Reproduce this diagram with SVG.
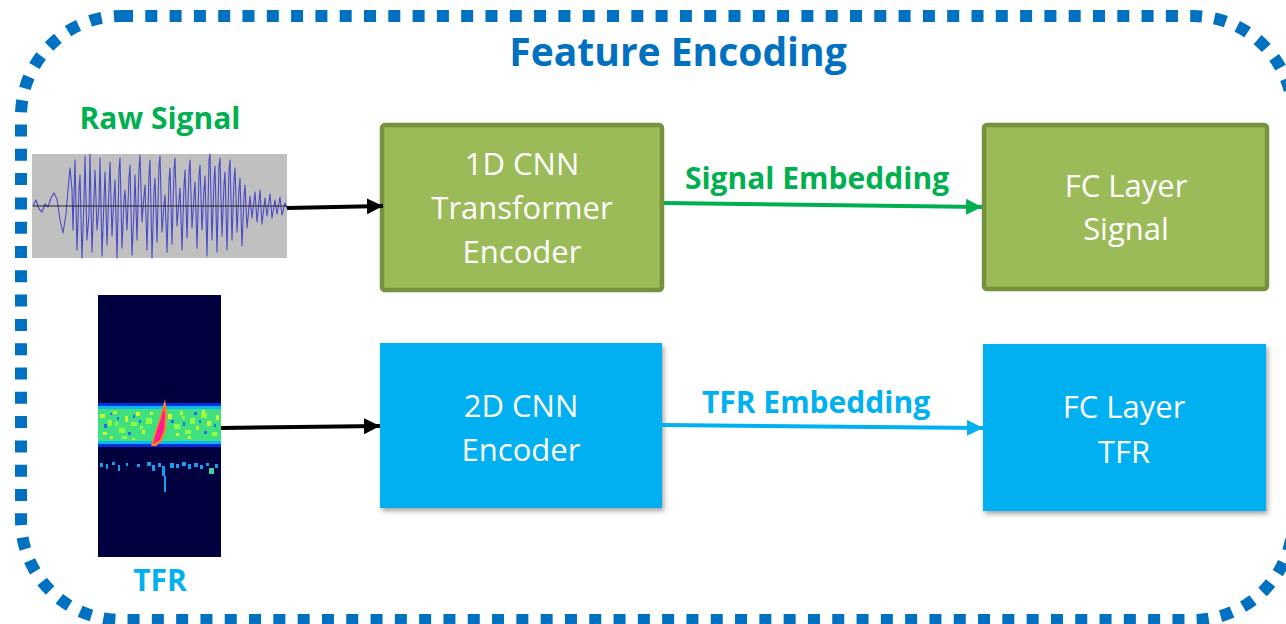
<svg xmlns="http://www.w3.org/2000/svg" width="1286" height="624" viewBox="0 0 1286 624">
  <style>
    .title { font-family: "Open Sans", "Liberation Sans", sans-serif; font-weight: bold; font-size: 39px; fill: #0070C0; text-anchor: middle; }
    .lbl { font-family: "Open Sans", "Liberation Sans", sans-serif; font-weight: bold; font-size: 30px; text-anchor: middle; }
    .green { fill: #00B050; }
    .blue { fill: #00B0F0; }
    .box-text { font-family: "Open Sans", "Liberation Sans", sans-serif; font-size: 31px; fill: #FFFFFF; text-anchor: middle; }
    .gbox { fill: #9BBB59; stroke: #76923C; stroke-width: 4.5; }
    .bbox { fill: #00B0F0; filter: url(#shadow); }
    .wire { fill: none; stroke-width: 4; }
  </style>
  <defs>
    <filter id="shadow" x="-10%" y="-10%" width="125%" height="130%">
      <feDropShadow dx="2" dy="3" stdDeviation="2.5" flood-color="#000000" flood-opacity="0.35"/>
    </filter>
    <filter id="soft" x="-5%" y="-20%" width="110%" height="140%">
      <feGaussianBlur stdDeviation="0.6"/>
    </filter>
    <marker id="head-black" markerUnits="userSpaceOnUse" markerWidth="18" markerHeight="18" refX="16" refY="8" orient="auto">
      <path d="M0,0 L16,8 L0,16 Z" fill="#000000"/>
    </marker>
    <marker id="head-green" markerUnits="userSpaceOnUse" markerWidth="18" markerHeight="18" refX="16" refY="8" orient="auto">
      <path d="M0,0 L16,8 L0,16 Z" fill="#00B050"/>
    </marker>
    <marker id="head-blue" markerUnits="userSpaceOnUse" markerWidth="18" markerHeight="18" refX="16" refY="8" orient="auto">
      <path d="M0,0 L16,8 L0,16 Z" fill="#00B0F0"/>
    </marker>
  </defs>

  <rect width="1286" height="624" fill="#FFFFFF"/>

  <!-- dotted frame around the encoding stage -->
  <rect id="frame" x="21" y="16" width="1272" height="604" rx="100" ry="100" fill="none" stroke="#0070C0" stroke-width="12" stroke-dasharray="12 12.3"/>
  <text class="title" x="678" y="66">Feature Encoding</text>

  <!-- raw waveform input -->
  <g id="raw-signal">
    <text class="lbl green" x="160" y="129">Raw Signal</text>
    <rect x="32" y="154" width="255" height="104" fill="#C0C0C0"/>
    <polyline fill="none" stroke="#4B4BC8" stroke-width="1.1" stroke-linejoin="round" points="33,206 36,200 39,209 42,212 45,204 48,207 51,198 54,193 57,199 60,220 63,233 66,214 68,190 70,168 72,190 73,230 75,160 77,250 79,190 80,175 82,258 84,200 85,156 87,240 89,215 90,154 92,252 94,196 95,170 97,230 99,205 100,158 102,256 104,200 105,172 107,245 109,188 110,162 112,236 113,214 115,180 117,258 119,170 120,158 122,248 124,200 125,190 127,230 129,178 130,165 132,255 134,210 135,175 137,240 139,168 140,155 142,222 144,196 145,185 147,250 149,174 150,160 152,258 154,192 155,178 157,242 159,166 160,156 162,232 164,205 165,195 167,252 169,180 170,168 172,244 174,170 175,158 177,226 179,200 180,188 182,250 184,186 185,170 187,238 189,172 190,160 192,228 194,196 195,182 197,248 199,175 200,165 202,230 204,190 205,176 207,256 209,160 210,154 212,240 214,180 215,166 217,252 219,166 220,158 222,236 224,184 225,172 227,250 229,170 230,160 232,240 234,180 235,168 237,232 239,190 240,178 242,246 244,196 245,185 247,228 250,196 252,218 255,192 257,222 260,190 262,224 265,198 267,216 270,194 272,218 275,200 277,214 280,197 282,215 285,203 287,208"/>
    <line x1="33" y1="206" x2="287" y2="206" stroke="#202020" stroke-width="1"/>
  </g>

  <!-- time-frequency representation input -->
  <g id="tfr-input">
    <rect x="98" y="295" width="123" height="262" fill="#00003F"/>
    <g filter="url(#soft)">
      <rect x="98" y="403" width="123" height="44" fill="#0030E0"/>
      <rect x="98" y="406" width="123" height="38" fill="#10B8F0"/>
      <rect x="98" y="409" width="123" height="32" fill="#40E080"/>
      <g fill="#C8FF30">
        <rect x="100" y="414" width="5" height="4"/>
        <rect x="113" y="411" width="4" height="3"/>
        <rect x="125" y="416" width="3" height="6"/>
        <rect x="136" y="412" width="4" height="4"/>
        <rect x="142" y="430" width="3" height="4"/>
        <rect x="168" y="414" width="4" height="5"/>
        <rect x="180" y="411" width="3" height="4"/>
        <rect x="196" y="426" width="3" height="4"/>
        <rect x="207" y="421" width="4" height="5"/>
        <rect x="216" y="415" width="3" height="5"/>
        <rect x="103" y="432" width="4" height="3"/>
        <rect x="158" y="428" width="3" height="5"/>
        <rect x="110" y="436" width="3" height="3"/>
        <rect x="150" y="412" width="3" height="3"/>
        <rect x="188" y="436" width="3" height="3"/>
        <rect x="202" y="410" width="3" height="3"/>
        <rect x="132" y="438" width="3" height="2"/>
        <rect x="176" y="433" width="3" height="3"/>
      </g>
      <g fill="#90FF40">
        <rect x="108" y="420" width="4" height="6"/>
        <rect x="119" y="428" width="6" height="5"/>
        <rect x="131" y="422" width="6" height="4"/>
        <rect x="146" y="418" width="6" height="6"/>
        <rect x="174" y="424" width="6" height="5"/>
        <rect x="185" y="430" width="6" height="4"/>
        <rect x="190" y="418" width="5" height="6"/>
        <rect x="201" y="413" width="6" height="5"/>
        <rect x="212" y="432" width="5" height="4"/>
        <rect x="122" y="436" width="5" height="3"/>
        <rect x="115" y="422" width="3" height="4"/>
        <rect x="140" y="426" width="3" height="3"/>
        <rect x="182" y="416" width="3" height="3"/>
      </g>
      <g fill="#2070F0">
        <rect x="104" y="424" width="3" height="4"/>
        <rect x="117" y="417" width="2" height="3"/>
        <rect x="128" y="432" width="3" height="3"/>
        <rect x="139" y="420" width="2" height="3"/>
        <rect x="171" y="420" width="3" height="3"/>
        <rect x="183" y="422" width="2" height="4"/>
        <rect x="194" y="412" width="3" height="3"/>
        <rect x="204" y="431" width="3" height="3"/>
        <rect x="214" y="424" width="2" height="3"/>
        <rect x="110" y="413" width="2" height="2"/>
        <rect x="133" y="415" width="2" height="3"/>
        <rect x="199" y="420" width="2" height="3"/>
      </g>
      <polygon points="151,446 155,432 159,420 163,406 165,399 167,412 166,430 162,441 156,446" fill="#FF8020"/>
      <polygon points="153,444 157,430 161,419 164,407 165,415 164,430 160,440" fill="#FF1E8C"/>
    </g>
    <g fill="#10A0F0">
      <rect x="100" y="463" width="3" height="4"/>
      <rect x="106" y="464" width="2" height="5"/>
      <rect x="112" y="462" width="3" height="3"/>
      <rect x="118" y="465" width="2" height="6"/>
      <rect x="126" y="463" width="2" height="3"/>
      <rect x="137" y="464" width="3" height="3"/>
      <rect x="147" y="462" width="4" height="4"/>
      <rect x="152" y="465" width="3" height="6"/>
      <rect x="158" y="463" width="3" height="4"/>
      <rect x="162" y="466" width="3" height="10"/>
      <rect x="164" y="476" width="2" height="16"/>
      <rect x="170" y="463" width="4" height="5"/>
      <rect x="176" y="464" width="3" height="4"/>
      <rect x="182" y="462" width="4" height="4"/>
      <rect x="188" y="464" width="3" height="5"/>
      <rect x="194" y="463" width="4" height="4"/>
      <rect x="200" y="465" width="3" height="4"/>
      <rect x="206" y="463" width="3" height="3"/>
      <rect x="215" y="464" width="3" height="4"/>
    </g>
    <rect x="209" y="468" width="5" height="6" fill="#40D0A0"/>
    <text class="lbl blue" x="160" y="591">TFR</text>
  </g>

  <!-- encoders -->
  <g id="cnn1d-encoder">
    <rect class="gbox" x="382" y="125" width="280" height="165" rx="3"/>
    <text class="box-text" x="522" y="175">1D CNN</text>
    <text class="box-text" x="522" y="219">Transformer</text>
    <text class="box-text" x="522" y="263">Encoder</text>
  </g>
  <g id="cnn2d-encoder">
    <rect class="bbox" x="380" y="343" width="282" height="165"/>
    <text class="box-text" x="521" y="417">2D CNN</text>
    <text class="box-text" x="521" y="461">Encoder</text>
  </g>

  <!-- fully connected heads -->
  <g id="fc-signal">
    <rect class="gbox" x="984" y="125" width="283" height="164" rx="3"/>
    <text class="box-text" x="1126" y="197">FC Layer</text>
    <text class="box-text" x="1126" y="240">Signal</text>
  </g>
  <g id="fc-tfr">
    <rect class="bbox" x="983" y="344" width="283" height="167"/>
    <text class="box-text" x="1124" y="418">FC Layer</text>
    <text class="box-text" x="1124" y="463">TFR</text>
  </g>

  <!-- connectors -->
  <g id="connectors">
    <line class="wire" x1="287" y1="208" x2="383" y2="206" stroke="#000000" marker-end="url(#head-black)"/>
    <line class="wire" x1="221" y1="428" x2="380" y2="426" stroke="#000000" marker-end="url(#head-black)"/>
    <line class="wire" x1="664" y1="203" x2="982" y2="207" stroke="#00B050" marker-end="url(#head-green)"/>
    <text class="lbl green" x="817" y="189">Signal Embedding</text>
    <line class="wire" x1="662" y1="425" x2="983" y2="428" stroke="#00B0F0" marker-end="url(#head-blue)"/>
    <text class="lbl blue" x="816" y="413">TFR Embedding</text>
  </g>
</svg>
